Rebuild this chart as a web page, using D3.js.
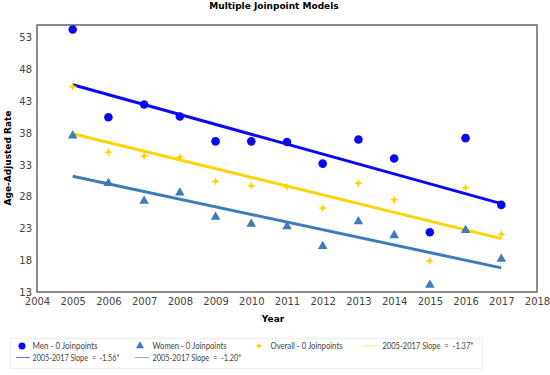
<!DOCTYPE html>
<html>
<head>
<meta charset="utf-8">
<script src="https://cdn.jsdelivr.net/npm/d3@7"></script>
<style>
  body { margin: 0; background: #fff; }
  svg { display: block; }
</style>
</head>
<body>
<svg id="chart" width="550" height="375"></svg>
<script>
// data
const years = [2005, 2006, 2007, 2008, 2009, 2010, 2011, 2012, 2013, 2014, 2015, 2016, 2017];
const men = [54.3, 40.5, 42.5, 40.6, 36.7, 36.7, 36.6, 33.2, 37.0, 34.0, 22.4, 37.2, 26.7];
const women = [37.6, 30.1, 27.3, 28.6, 24.8, 23.7, 23.3, 20.2, 24.1, 21.9, 14.1, 22.7, 18.2];
const overall = [45.3, 35.0, 34.4, 34.2, 30.4, 29.7, 29.5, 26.2, 30.1, 27.5, 17.9, 29.4, 22.1];
// fitted line end points (2005, 2017)
const menFit = [45.6, 26.9];
const womenFit = [31.2, 16.8];
const overallFit = [37.9, 21.4];
const xTicks = d3.range(2004, 2019);
const yTicks = [13, 18, 23, 28, 33, 38, 43, 48, 53];

const blue = '#0a0af0', steel = '#3d7cb8', gold = '#ffd400';

const svg = d3.select('#chart');
const margin = {top: 25, right: 13, bottom: 83, left: 37};
const width = 550 - margin.left - margin.right;
const height = 375 - margin.top - margin.bottom;

const x = d3.scaleLinear().domain([2004, 2018]).range([0, width]);
const y = d3.scaleLinear().domain([13, 55]).range([height, 0]);

const g = svg.append('g').attr('transform', `translate(${margin.left},${margin.top})`);

svg.append('text')
  .attr('x', 274).attr('y', 9)
  .attr('text-anchor', 'middle')
  .style('font', 'bold 9px "DejaVu Sans"')
  .text('Multiple Joinpoint Models');

g.append('rect')
  .attr('width', width).attr('height', height)
  .attr('fill', 'none').attr('stroke', '#666').attr('stroke-width', 1.5);

const xAxis = g.append('g')
  .attr('transform', `translate(0,${height})`)
  .call(d3.axisBottom(x).tickValues(xTicks).tickFormat(d3.format('d')).tickSize(0).tickPadding(6));
const yAxis = g.append('g')
  .call(d3.axisLeft(y).tickValues(yTicks).tickSize(0).tickPadding(5));
[xAxis, yAxis].forEach(a => {
  a.select('.domain').remove();
  a.selectAll('text').style('font', '10px "DejaVu Sans"').attr('fill', '#444');
});

svg.append('text')
  .attr('x', 273).attr('y', 322)
  .attr('text-anchor', 'middle')
  .style('font', 'bold 9px "DejaVu Sans"')
  .text('Year');
svg.append('text')
  .attr('transform', 'translate(11,158) rotate(-90)')
  .attr('text-anchor', 'middle')
  .style('font', 'bold 9px "DejaVu Sans"')
  .text('Age-Adjusted Rate');

// fitted lines
const fits = [
  {v: overallFit, c: gold},
  {v: menFit, c: blue},
  {v: womenFit, c: steel}
];
fits.forEach(f => {
  g.append('line')
    .attr('x1', x(2005)).attr('y1', y(f.v[0]))
    .attr('x2', x(2017)).attr('y2', y(f.v[1]))
    .attr('stroke', f.c).attr('stroke-width', 3);
});

const sparkle = 'M0,-4.5 L1.2,-1.2 L4.5,0 L1.2,1.2 L0,4.5 L-1.2,1.2 L-4.5,0 L-1.2,-1.2 Z';
const tri = d3.symbol().type(d3.symbolTriangle).size(40);

g.selectAll('.men').data(years).join('circle')
  .attr('cx', d => x(d)).attr('cy', (d, i) => y(men[i]))
  .attr('r', 4.3).attr('fill', blue);
g.selectAll('.women').data(years).join('path')
  .attr('d', tri)
  .attr('transform', (d, i) => `translate(${x(d)},${y(women[i])})`)
  .attr('fill', steel);
g.selectAll('.overall').data(years).join('path')
  .attr('d', sparkle)
  .attr('transform', (d, i) => `translate(${x(d)},${y(overall[i])})`)
  .attr('fill', gold);

// legend
const lg = svg.append('g');
lg.append('rect')
  .attr('x', 10.5).attr('y', 338.5).attr('width', 472).attr('height', 30)
  .attr('fill', '#fff').attr('stroke', '#eee');
const legendItems = [
  {type: 'circle', c: blue, x: 22, tx: 32.5, y: 346, w: 65, label: 'Men - 0 Joinpoints'},
  {type: 'tri', c: steel, x: 140, tx: 152.5, y: 346, w: 74, label: 'Women - 0 Joinpoints'},
  {type: 'star', c: gold, x: 259, tx: 270.5, y: 346, w: 72, label: 'Overall - 0 Joinpoints'},
  {type: 'line', c: gold, x: 369.5, tx: 382.5, y: 346, w: 91, label: '2005-2017 Slope  =  -1.37*'},
  {type: 'line', c: blue, x: 23, tx: 32.5, y: 357.5, w: 87, label: '2005-2017 Slope  =  -1.56*'},
  {type: 'line', c: steel, x: 142, tx: 152.5, y: 357.5, w: 89, label: '2005-2017 Slope  =  -1.20*'}
];
legendItems.forEach(it => {
  if (it.type === 'circle') {
    lg.append('circle').attr('cx', it.x).attr('cy', it.y).attr('r', 3.5).attr('fill', it.c);
  } else if (it.type === 'tri') {
    lg.append('path').attr('d', d3.symbol().type(d3.symbolTriangle).size(28))
      .attr('transform', `translate(${it.x},${it.y})`).attr('fill', it.c);
  } else if (it.type === 'star') {
    lg.append('path').attr('d', sparkle)
      .attr('transform', `translate(${it.x},${it.y}) scale(0.8)`).attr('fill', it.c);
  } else {
    lg.append('line')
      .attr('x1', it.x - 7).attr('x2', it.x + 7)
      .attr('y1', it.y).attr('y2', it.y)
      .attr('stroke', it.c).attr('stroke-width', 1).attr('opacity', 0.6);
  }
  lg.append('text')
    .attr('x', it.tx)
    .attr('y', it.y + 3)
    .attr('textLength', it.w).attr('lengthAdjust', 'spacingAndGlyphs')
    .style('font', '8.5px Lato').attr('fill', '#444')
    .style('white-space', 'pre')
    .text(it.label);
});
</script>
</body>
</html>
